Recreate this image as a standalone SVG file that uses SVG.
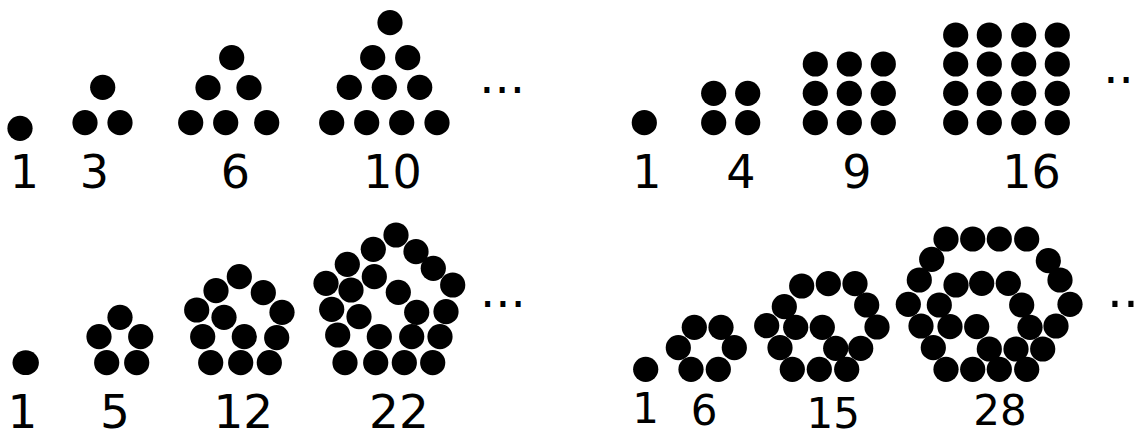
<svg xmlns="http://www.w3.org/2000/svg" width="1138" height="431" viewBox="0 0 1138 431">
<style>
circle{fill:#000}
text{font-family:"DejaVu Sans","Liberation Sans",sans-serif;fill:#000;text-anchor:middle}
.big{font-size:46px}
.bl{font-size:47px}
.sm{font-size:42px}
.ell{text-anchor:start;font-size:48px}
</style>
<rect width="1138" height="431" fill="#fff"/>
<g id="tri1"><circle cx="20" cy="128.3" r="12.6"/><text class="big" x="24.3" y="188.3">1</text></g>
<g id="tri3"><circle cx="102.7" cy="87.3" r="12.6"/><circle cx="85" cy="122.7" r="12.6"/><circle cx="120" cy="122.7" r="12.6"/><text class="big" x="94.5" y="188.3">3</text></g>
<g id="tri6"><circle cx="231.7" cy="57.7" r="12.6"/><circle cx="208" cy="87.7" r="12.6"/><circle cx="249" cy="87.7" r="12.6"/><circle cx="190.7" cy="122.7" r="12.6"/><circle cx="225.7" cy="122.7" r="12.6"/><circle cx="266.7" cy="122.7" r="12.6"/><text class="big" x="235.5" y="188.3">6</text></g>
<g id="tri10"><circle cx="390" cy="22.7" r="12.6"/><circle cx="372.7" cy="57.7" r="12.6"/><circle cx="407.7" cy="57.7" r="12.6"/><circle cx="349.3" cy="87.3" r="12.6"/><circle cx="384.3" cy="87.3" r="12.6"/><circle cx="419.7" cy="87.3" r="12.6"/><circle cx="331.7" cy="122.7" r="12.6"/><circle cx="366.7" cy="122.7" r="12.6"/><circle cx="401.7" cy="122.7" r="12.6"/><circle cx="437" cy="122.7" r="12.6"/><text class="big" x="392.5" y="188.3">10</text></g>
<g id="tri-more"><text class="ell" x="479.2" y="92.7">...</text></g>
<g id="sq1"><circle cx="644.3" cy="122.7" r="12.6"/><text class="big" x="647" y="188.3">1</text></g>
<g id="sq4"><circle cx="713.7" cy="93.3" r="12.6"/><circle cx="747.7" cy="93.3" r="12.6"/><circle cx="713.7" cy="122.7" r="12.6"/><circle cx="747.7" cy="122.7" r="12.6"/><text class="big" x="741" y="188.3">4</text></g>
<g id="sq9"><circle cx="815.3" cy="64" r="12.6"/><circle cx="849.3" cy="64" r="12.6"/><circle cx="883.3" cy="64" r="12.6"/><circle cx="815.3" cy="93.3" r="12.6"/><circle cx="849.3" cy="93.3" r="12.6"/><circle cx="883.3" cy="93.3" r="12.6"/><circle cx="815.3" cy="122.7" r="12.6"/><circle cx="849.3" cy="122.7" r="12.6"/><circle cx="883.3" cy="122.7" r="12.6"/><text class="big" x="857" y="188.3">9</text></g>
<g id="sq16"><circle cx="955.7" cy="35" r="12.6"/><circle cx="989.3" cy="35" r="12.6"/><circle cx="1023.7" cy="35" r="12.6"/><circle cx="1057.3" cy="35" r="12.6"/><circle cx="955.7" cy="64" r="12.6"/><circle cx="989.3" cy="64" r="12.6"/><circle cx="1023.7" cy="64" r="12.6"/><circle cx="1057.3" cy="64" r="12.6"/><circle cx="955.7" cy="93.3" r="12.6"/><circle cx="989.3" cy="93.3" r="12.6"/><circle cx="1023.7" cy="93.3" r="12.6"/><circle cx="1057.3" cy="93.3" r="12.6"/><circle cx="955.7" cy="122.7" r="12.6"/><circle cx="989.3" cy="122.7" r="12.6"/><circle cx="1023.7" cy="122.7" r="12.6"/><circle cx="1057.3" cy="122.7" r="12.6"/><text class="big" x="1031.5" y="188.3">16</text></g>
<g id="sq-more"><text class="ell" x="1103.2" y="83.3">..</text></g>
<g id="pent1"><ellipse cx="25.7" cy="362.7" rx="13.2" ry="12.4"/><text class="bl" x="22.5" y="428.3">1</text></g>
<g id="pent5"><circle cx="120" cy="317.3" r="12.6"/><circle cx="99" cy="336.7" r="12.6"/><circle cx="140.7" cy="336.7" r="12.6"/><circle cx="106.7" cy="362.7" r="12.6"/><circle cx="136.7" cy="362.7" r="12.6"/><text class="bl" x="115" y="428.3">5</text></g>
<g id="pent12"><circle cx="239.3" cy="276.7" r="12.6"/><circle cx="216" cy="290.7" r="12.6"/><circle cx="263.3" cy="292.7" r="12.6"/><circle cx="196.7" cy="310" r="12.6"/><circle cx="282" cy="312.3" r="12.6"/><circle cx="224" cy="317.3" r="12.6"/><circle cx="202.7" cy="336.7" r="12.6"/><circle cx="244.3" cy="336.7" r="12.6"/><circle cx="276.7" cy="337.7" r="12.6"/><circle cx="210.7" cy="362.7" r="12.6"/><circle cx="240.7" cy="362.7" r="12.6"/><circle cx="269.3" cy="362.7" r="12.6"/><text class="bl" x="243.3" y="428.3">12</text></g>
<g id="pent22"><circle cx="396" cy="235" r="12.6"/><circle cx="373.3" cy="249.3" r="12.6"/><circle cx="416" cy="251.7" r="12.6"/><circle cx="347.3" cy="264.3" r="12.6"/><circle cx="433.3" cy="268.3" r="12.6"/><circle cx="326" cy="283.3" r="12.6"/><circle cx="452.7" cy="285" r="12.6"/><circle cx="374.3" cy="276.7" r="12.6"/><circle cx="351" cy="290" r="12.6"/><circle cx="398.3" cy="292.3" r="12.6"/><circle cx="331.7" cy="309.3" r="12.6"/><circle cx="359" cy="316.7" r="12.6"/><circle cx="416.7" cy="312.3" r="12.6"/><circle cx="446" cy="311.7" r="12.6"/><circle cx="337.7" cy="335" r="12.6"/><circle cx="379.3" cy="336.7" r="12.6"/><circle cx="411.7" cy="336.7" r="12.6"/><circle cx="440" cy="336.7" r="12.6"/><circle cx="345" cy="362.7" r="12.6"/><circle cx="375.7" cy="362.7" r="12.6"/><circle cx="404.3" cy="362.7" r="12.6"/><circle cx="432.7" cy="362.7" r="12.6"/><text class="bl" x="399" y="428.3">22</text></g>
<g id="pent-more"><text class="ell" x="480" y="306.7">...</text></g>
<g id="hex1"><circle cx="645.7" cy="369.3" r="12.6"/><text class="sm" x="645.5" y="423.3">1</text></g>
<g id="hex6"><circle cx="694.3" cy="327.3" r="12.6"/><circle cx="721" cy="327.3" r="12.6"/><circle cx="678.3" cy="347.7" r="12.6"/><circle cx="734.3" cy="347.7" r="12.6"/><circle cx="691" cy="369.3" r="12.6"/><circle cx="718.3" cy="369.3" r="12.6"/><text class="sm" x="704" y="425">6</text></g>
<g id="hex15"><circle cx="801.7" cy="286" r="12.6"/><circle cx="828.3" cy="283.7" r="12.6"/><circle cx="855" cy="283.7" r="12.6"/><circle cx="784.3" cy="306.7" r="12.6"/><circle cx="866.7" cy="305" r="12.6"/><circle cx="766.7" cy="325.7" r="12.6"/><circle cx="795.7" cy="327.3" r="12.6"/><circle cx="822.3" cy="327.3" r="12.6"/><circle cx="877" cy="327" r="12.6"/><circle cx="780" cy="347.7" r="12.6"/><circle cx="835.7" cy="348.3" r="12.6"/><circle cx="860.7" cy="348.3" r="12.6"/><circle cx="792.3" cy="369.3" r="12.6"/><circle cx="819.3" cy="369.3" r="12.6"/><circle cx="846.7" cy="369.3" r="12.6"/><text class="sm" x="833.3" y="428.3">15</text></g>
<g id="hex28"><circle cx="946" cy="239" r="12.6"/><circle cx="972.7" cy="239" r="12.6"/><circle cx="999.3" cy="239" r="12.6"/><circle cx="1026.7" cy="239" r="12.6"/><circle cx="931.7" cy="259.3" r="12.6"/><circle cx="1048.3" cy="260.7" r="12.6"/><circle cx="919.3" cy="280" r="12.6"/><circle cx="1060" cy="280" r="12.6"/><circle cx="956" cy="285" r="12.6"/><circle cx="981.7" cy="283.3" r="12.6"/><circle cx="1008.3" cy="283.3" r="12.6"/><circle cx="908.3" cy="304.3" r="12.6"/><circle cx="939.3" cy="305" r="12.6"/><circle cx="1021.7" cy="305" r="12.6"/><circle cx="1070" cy="304.3" r="12.6"/><circle cx="921" cy="326" r="12.6"/><circle cx="950" cy="326.7" r="12.6"/><circle cx="976.7" cy="326.7" r="12.6"/><circle cx="1030" cy="327.3" r="12.6"/><circle cx="1056" cy="326" r="12.6"/><circle cx="933.3" cy="347.7" r="12.6"/><circle cx="989.3" cy="349" r="12.6"/><circle cx="1016" cy="349" r="12.6"/><circle cx="1042.7" cy="349" r="12.6"/><circle cx="946" cy="369.3" r="12.6"/><circle cx="972.7" cy="369.3" r="12.6"/><circle cx="999.3" cy="369.3" r="12.6"/><circle cx="1026.7" cy="369.3" r="12.6"/><text class="sm" x="1000" y="425">28</text></g>
<g id="hex-more"><text class="ell" x="1107" y="306.7" style="font-size:50px">..</text></g>
</svg>
